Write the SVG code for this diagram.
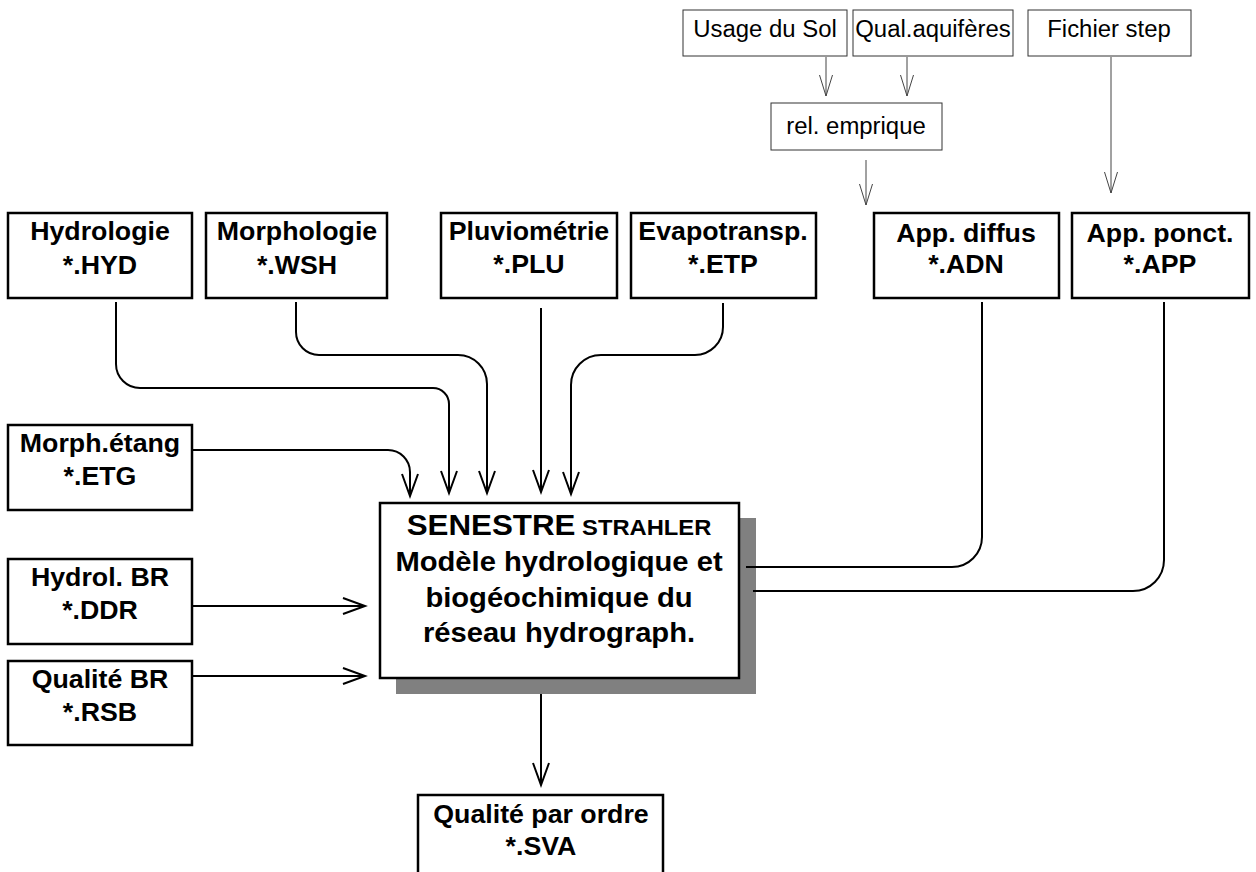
<svg xmlns="http://www.w3.org/2000/svg" width="1256" height="872" viewBox="0 0 1256 872">
<style>
.bx{fill:#fff;stroke:#000;stroke-width:2.5}
.tb{fill:#fff;stroke:#333;stroke-width:1}
.t{font-family:"Liberation Sans",Arial,sans-serif;font-weight:bold;font-size:25px;text-anchor:middle;fill:#000}
.tt{font-family:"Liberation Sans",Arial,sans-serif;font-size:23px;text-anchor:middle;fill:#000}
.mt{font-family:"Liberation Sans",Arial,sans-serif;font-weight:bold;font-size:27px;text-anchor:middle;fill:#000}
.c{fill:none;stroke:#000;stroke-width:2}
.ct{fill:none;stroke:#444;stroke-width:1}
</style>
<defs>
<marker id="ah" markerUnits="userSpaceOnUse" markerWidth="26" markerHeight="18" viewBox="0 0 26 18" refX="23" refY="9" orient="auto">
<path d="M1,1 L23,9 L1,17" fill="none" stroke="#000" stroke-width="2"/>
</marker>
<marker id="aht" markerUnits="userSpaceOnUse" markerWidth="24" markerHeight="16" viewBox="0 0 24 16" refX="22" refY="8" orient="auto">
<path d="M1,1.5 L22,8 L1,14.5" fill="none" stroke="#444" stroke-width="1"/>
</marker>
</defs>
<rect width="1256" height="872" fill="#fff"/>

<g id="connectors">
<path class="ct" d="M826,57 V96" marker-end="url(#aht)"/>
<path class="ct" d="M907,57 V96" marker-end="url(#aht)"/>
<path class="ct" d="M866,160 V205" marker-end="url(#aht)"/>
<path class="ct" d="M1111,57 V193" marker-end="url(#aht)"/>
<path class="c" d="M116,302 V364 A24,24 0 0 0 140,388 H433 A16,16 0 0 1 449,404 V493" marker-end="url(#ah)"/>
<path class="c" d="M296,302 V332 A23,23 0 0 0 319,355 H458 A29,29 0 0 1 487,384 V493" marker-end="url(#ah)"/>
<path class="c" d="M192,450 H388 A22,22 0 0 1 410,472 V496" marker-end="url(#ah)"/>
<path class="c" d="M541,308 V492" marker-end="url(#ah)"/>
<path class="c" d="M723,303 V327 A28,28 0 0 1 695,355 H601 A30,30 0 0 0 571,385 V494" marker-end="url(#ah)"/>
<path class="c" d="M192,606 H365" marker-end="url(#ah)"/>
<path class="c" d="M192,676 H365" marker-end="url(#ah)"/>
<path class="c" d="M541,693 V785" marker-end="url(#ah)"/>
</g>

<g id="n-usage"><rect class="tb" x="683" y="10" width="164" height="46"/><text class="tt" transform="matrix(1.04 0 0 1 765 0)" y="37">Usage du Sol</text></g>
<g id="n-qual"><rect class="tb" x="853" y="10" width="160" height="46"/><text class="tt" transform="matrix(1.04 0 0 1 933 0)" y="37">Qual.aquifères</text></g>
<g id="n-step"><rect class="tb" x="1028" y="10" width="163" height="46"/><text class="tt" transform="matrix(1.04 0 0 1 1109 0)" y="37">Fichier step</text></g>
<g id="n-rel"><rect class="tb" x="771" y="103" width="171" height="47"/><text class="tt" transform="matrix(1.04 0 0 1 856 0)" y="134">rel. emprique</text></g>

<g id="n-hyd"><rect class="bx" x="8" y="213" width="184" height="85"/><text class="t" transform="matrix(1.07 0 0 1 100 0)" y="240">Hydrologie</text><text class="t" transform="matrix(1.07 0 0 1 100 0)" y="274">*.HYD</text></g>
<g id="n-wsh"><rect class="bx" x="206" y="213" width="181" height="85"/><text class="t" transform="matrix(1.07 0 0 1 297 0)" y="240">Morphologie</text><text class="t" transform="matrix(1.07 0 0 1 297 0)" y="274">*.WSH</text></g>
<g id="n-plu"><rect class="bx" x="441" y="213" width="176" height="85"/><text class="t" transform="matrix(1.07 0 0 1 529 0)" y="240">Pluviométrie</text><text class="t" transform="matrix(1.07 0 0 1 529 0)" y="273">*.PLU</text></g>
<g id="n-etp"><rect class="bx" x="631" y="213" width="185" height="85"/><text class="t" transform="matrix(1.07 0 0 1 723 0)" y="240">Evapotransp.</text><text class="t" transform="matrix(1.07 0 0 1 723 0)" y="273">*.ETP</text></g>
<g id="n-adn"><rect class="bx" x="874" y="213" width="185" height="85"/><text class="t" transform="matrix(1.07 0 0 1 966 0)" y="242">App. diffus</text><text class="t" transform="matrix(1.07 0 0 1 966 0)" y="273">*.ADN</text></g>
<g id="n-app"><rect class="bx" x="1072" y="213" width="177" height="85"/><text class="t" transform="matrix(1.07 0 0 1 1160 0)" y="242">App. ponct.</text><text class="t" transform="matrix(1.07 0 0 1 1160 0)" y="273">*.APP</text></g>

<g id="n-etg"><rect class="bx" x="8" y="425" width="184" height="85"/><text class="t" transform="matrix(1.07 0 0 1 100 0)" y="452">Morph.étang</text><text class="t" transform="matrix(1.07 0 0 1 100 0)" y="485">*.ETG</text></g>
<g id="n-ddr"><rect class="bx" x="8" y="559" width="184" height="85"/><text class="t" transform="matrix(1.07 0 0 1 100 0)" y="586">Hydrol. BR</text><text class="t" transform="matrix(1.07 0 0 1 100 0)" y="619">*.DDR</text></g>
<g id="n-rsb"><rect class="bx" x="8" y="661" width="184" height="84"/><text class="t" transform="matrix(1.07 0 0 1 100 0)" y="688">Qualité BR</text><text class="t" transform="matrix(1.07 0 0 1 100 0)" y="721">*.RSB</text></g>

<g id="n-main">
<rect x="396" y="518" width="360" height="176" fill="#808080"/>
<rect class="bx" x="380" y="503" width="359" height="175"/>
<text class="mt" transform="matrix(1.08 0 0 1 559 0)" y="535"><tspan font-size="29">SENESTRE</tspan><tspan font-size="22"> STRAHLER</tspan></text>
<text class="mt" transform="matrix(1.08 0 0 1 559 0)" y="571">Modèle hydrologique et</text>
<text class="mt" transform="matrix(1.08 0 0 1 559 0)" y="607">biogéochimique du</text>
<text class="mt" transform="matrix(1.08 0 0 1 559 0)" y="642">réseau hydrograph.</text>
</g>
<g id="connectors-right">
<path class="c" d="M982,302 V537 A30,30 0 0 1 952,567 H746"/>
<path class="c" d="M1164,302 V560 A31,31 0 0 1 1133,591 H753"/>
</g>

<g id="n-sva"><rect class="bx" x="418" y="795" width="245" height="90"/><text class="t" transform="matrix(1.07 0 0 1 541 0)" y="823">Qualité par ordre</text><text class="t" transform="matrix(1.07 0 0 1 541 0)" y="855">*.SVA</text></g>
</svg>
